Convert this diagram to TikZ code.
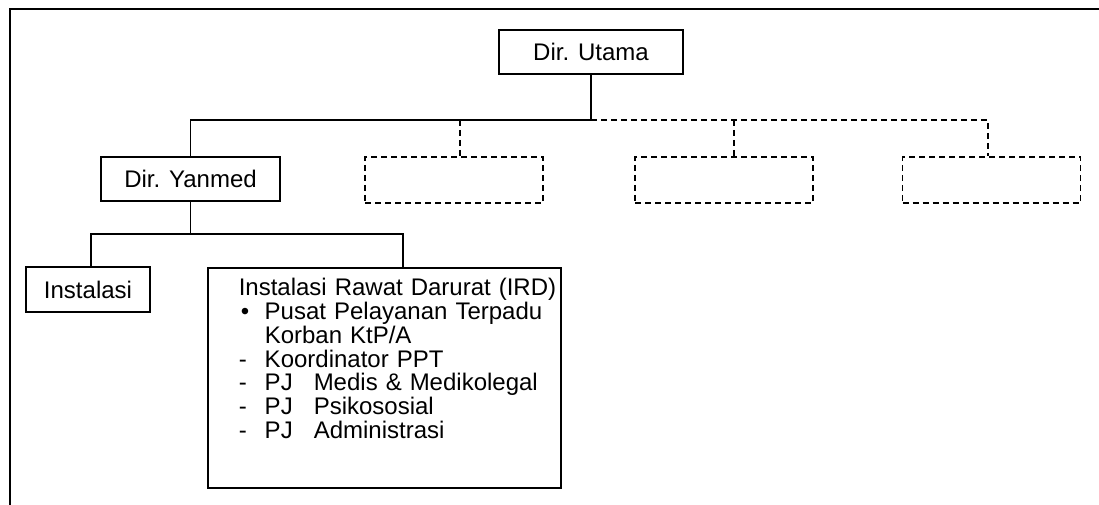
\documentclass[tikz,border=0pt]{standalone}
\usepackage{fontspec}
\setmainfont{Liberation Sans}
\begin{document}
\begin{tikzpicture}[x=1pt,y=-1pt,
  kotak/.style={draw,line width=1.5pt,minimum height=44pt,inner sep=0pt,
    font=\fontsize{24pt}{23.8pt}\selectfont},
  kosong/.style={kotak,dash pattern=on 6pt off 4pt,minimum width=178pt,minimum height=46pt},
  garis/.style={line width=1.5pt},
  putus/.style={garis,dash pattern=on 6pt off 4pt}]

\useasboundingbox (0,0) rectangle (1099,505);

% frame
\draw[line width=2pt] (10,505) -- (10,9) -- (1099,9);

% Direksi
\node[kotak,minimum width=184pt] (utama) at (591,52) {Dir. Utama};
\node[kotak,minimum width=179pt] (yanmed) at (190.5,179) {Dir. Yanmed};
\node[kosong] (kosongA) at (454,180) {};
\node[kosong] (kosongB) at (724,180) {};
\node[kosong] (kosongC) at (991.5,180) {};

\coordinate (bagi) at (591,120);
\coordinate (tA) at ([xshift=6pt]kosongA.north);
\coordinate (tB) at ([xshift=10pt]kosongB.north);
\coordinate (tC) at ([xshift=-3.5pt]kosongC.north);

\draw[garis] (utama) -- (bagi);
\draw[garis] (bagi) -| (yanmed);
\draw[putus] (bagi) -| (tC);
\draw[putus] (tA |- bagi) -- (tA);
\draw[putus] (tB |- bagi) -- (tB);

% Instalasi
\node[kotak,minimum width=124pt,minimum height=45pt] (instalasi) at (88,289.5) {Instalasi};
\node[kotak,anchor=north west,text width=353pt,align=left,
      text height=28pt,text depth=192pt] (ird) at (207,267) {%
\setlength{\leftskip}{31pt}%
Instalasi Rawat Darurat (IRD)\\
\makebox[26pt][l]{\hspace{2pt}•}Pusat Pelayanan Terpadu\\
\hspace*{26pt}Korban KtP/A\\
\makebox[26pt][l]{-}Koordinator PPT\\
\makebox[26pt][l]{-}\makebox[49pt][l]{PJ}Medis \& Medikolegal\\
\makebox[26pt][l]{-}\makebox[49pt][l]{PJ}Psikososial\\
\makebox[26pt][l]{-}\makebox[49pt][l]{PJ}Administrasi\par};

\coordinate (cabang) at (190.5,234);
\coordinate (tI) at ([xshift=3pt]instalasi.north);
\coordinate (tR) at ([xshift=18.5pt]ird.north);

\draw[garis] (yanmed) -- (cabang);
\draw[garis] (tI) |- (cabang) -| (tR);

\end{tikzpicture}
\end{document}
